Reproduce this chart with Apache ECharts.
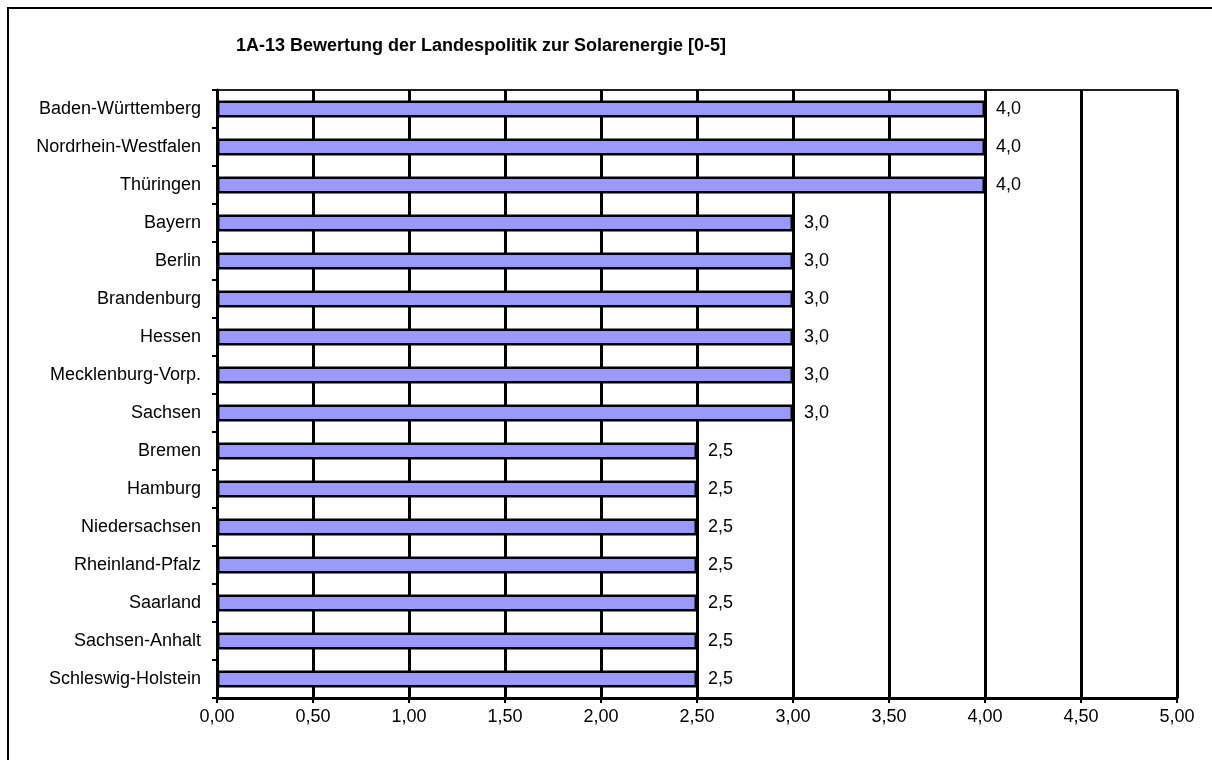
<!DOCTYPE html>
<html>
<head>
<meta charset="utf-8">
<script src="https://cdn.jsdelivr.net/npm/echarts@6/dist/echarts.min.js"></script>
<style>
html,body{margin:0;padding:0;background:#fff;}
#c{width:1212px;height:760px;}
</style>
</head>
<body>
<div id="c"></div>
<script>
const titleText = '1A-13 Bewertung der Landespolitik zur Solarenergie [0-5]';
const categories = ['Baden-Württemberg','Nordrhein-Westfalen','Thüringen','Bayern','Berlin','Brandenburg','Hessen','Mecklenburg-Vorp.','Sachsen','Bremen','Hamburg','Niedersachsen','Rheinland-Pfalz','Saarland','Sachsen-Anhalt','Schleswig-Holstein'];
const values = [4.0,4.0,4.0,3.0,3.0,3.0,3.0,3.0,3.0,2.5,2.5,2.5,2.5,2.5,2.5,2.5];
const xMin = 0, xMax = 5, xStep = 0.5;

const font = '"Liberation Sans", Arial, sans-serif';
const chart = echarts.init(document.getElementById('c'), null, {renderer:'canvas'});
chart.setOption({
  backgroundColor:'#fff',
  animation:false,
  title:{
    text:titleText, left:231, top:32,
    textStyle:{fontFamily:font, fontSize:18, fontWeight:'bold', color:'#000'}
  },
  graphic:[{
    type:'rect', shape:{x:8, y:8, width:1300, height:900},
    style:{fill:'none', stroke:'#000', lineWidth:2}, silent:true, z:-1
  }],
  grid:{left:217, top:90, right:35, bottom:62, show:true, borderColor:'#222', borderWidth:2, backgroundColor:'transparent'},
  xAxis:{
    type:'value', min:xMin, max:xMax, interval:xStep,
    axisLine:{show:true, lineStyle:{color:'#000', width:3}},
    axisTick:{show:true, length:5, lineStyle:{color:'#000', width:2}},
    splitLine:{show:true, lineStyle:{color:'#000', width:3}},
    axisLabel:{margin:10, fontFamily:font, fontSize:18, color:'#000',
      formatter:v=>v.toFixed(2).replace('.',',')}
  },
  yAxis:{
    type:'category', data:categories, inverse:true,
    axisLine:{show:true, lineStyle:{color:'#000', width:3}},
    axisTick:{show:true, length:5, lineStyle:{color:'#000', width:2}},
    axisLabel:{margin:16, fontFamily:font, fontSize:18, color:'#000'}
  },
  series:[{
    type:'bar', data:values, barWidth:17,
    itemStyle:{color:'#9999ff', borderColor:'#000', borderWidth:2.5},
    label:{show:true, position:'right', distance:11, fontFamily:font, fontSize:18, color:'#000',
      formatter:p=>p.value.toFixed(1).replace('.',',')}
  }]
});
</script>
</body>
</html>
